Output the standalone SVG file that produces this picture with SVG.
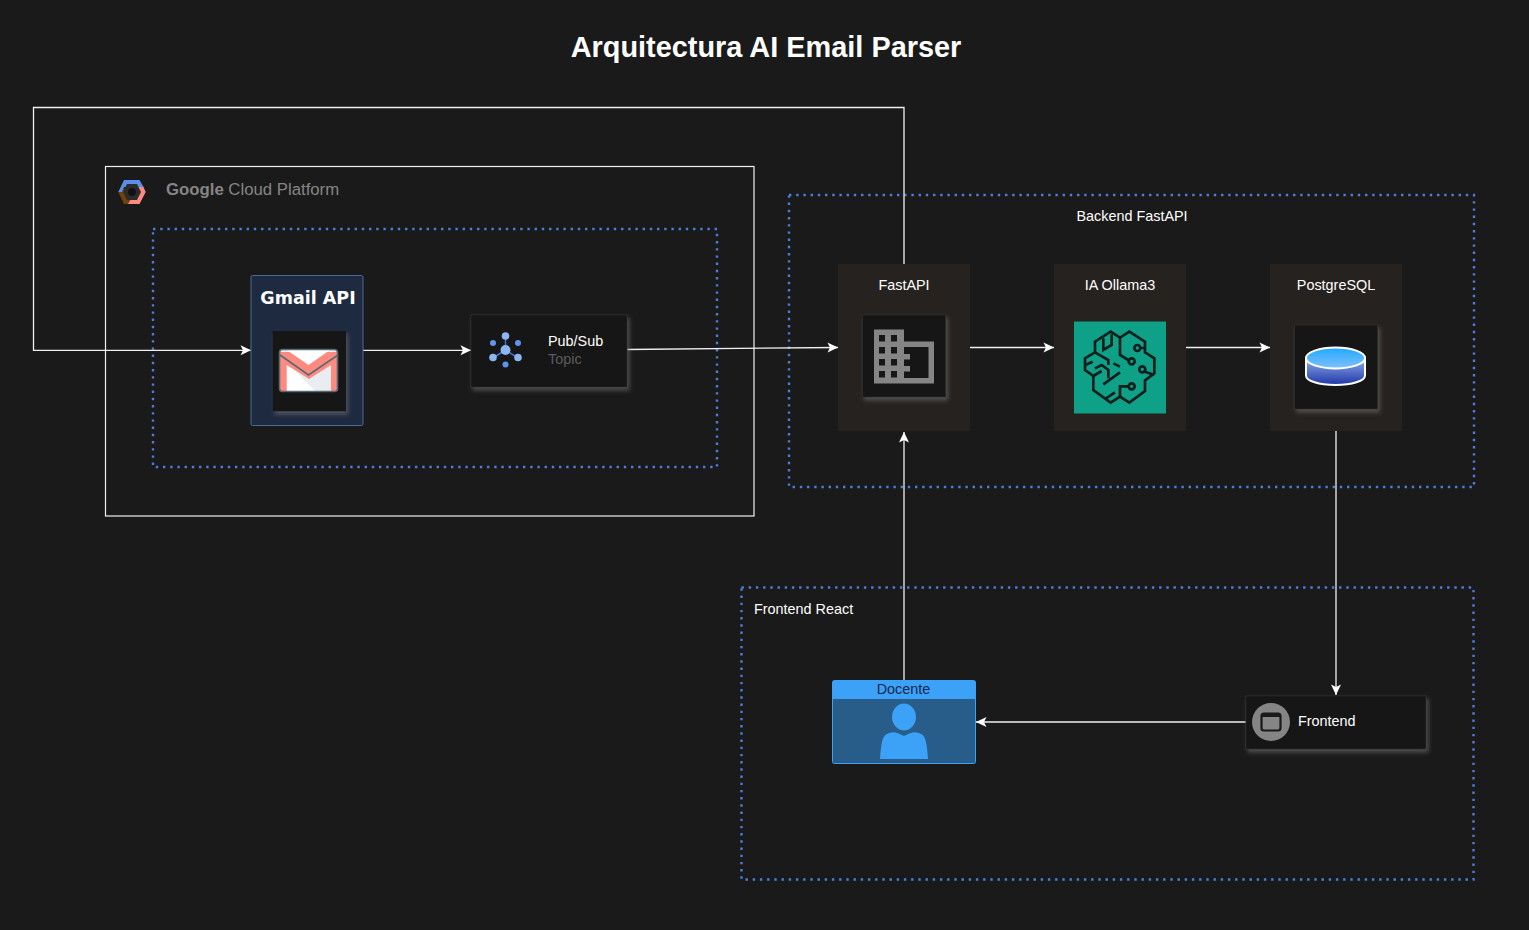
<svg xmlns="http://www.w3.org/2000/svg" width="1529" height="930" viewBox="0 0 1529 930">
<style>
text{font-family:"Liberation Sans",Arial,sans-serif;font-size:14.4px;fill:#fff}
.c{text-anchor:middle}
.zone{fill:none;stroke:#4a7ddc;stroke-width:2.400;stroke-dasharray:2.400 4.800}
.wire{fill:none;stroke:#f0f0f0;stroke-width:1.300;marker-end:url(#a)}
.card{fill:#121212;stroke:#2c2c2c;stroke-width:1;filter:url(#s)}
.col{fill:#26221f}
.br{fill:none;stroke:#0f1f1c;stroke-width:8;stroke-linejoin:miter}
</style>
<defs>
<marker id="a" markerUnits="userSpaceOnUse" markerWidth="12" markerHeight="12" refX="10.500" refY="5" orient="auto" overflow="visible"><path d="M0 0L10.500 5L0 10L2.500 5Z" fill="#fff"/></marker>
<filter id="s" x="-20%" y="-20%" width="145%" height="145%"><feDropShadow dx="2" dy="3" stdDeviation="2" flood-color="#777" flood-opacity=".55"/></filter>
<linearGradient id="d" x1="0" y1="0" x2="0" y2="1"><stop offset="0" stop-color="#8fb0e8"/><stop offset="1" stop-color="#1f35a8"/></linearGradient>
<linearGradient id="t" x1="0" y1="0" x2="0" y2="1"><stop offset="0" stop-color="#20a8ff"/><stop offset="1" stop-color="#80c0ff"/></linearGradient>
</defs>
<rect width="1529" height="930" fill="#1a1a1a"/>
<text x="766" y="57" class="c" style="font-size:28.900px;font-weight:bold">Arquitectura AI Email Parser</text>

<g id="gcp">
<rect x="105.500" y="166.500" width="648.500" height="349.500" fill="none" stroke="#f0f0f0" stroke-width="1.200"/>
<path d="M118.300 192L124 204H134V194L124 188Z" fill="#6e4208"/>
<path d="M139 184L143 186L145.700 192L139.500 204H128L134 194Z" fill="#ff8a80"/>
<path d="M118.300 192L124 180H139.500L143.500 187H124L122 192Z" fill="#5a8ee8"/>
<path d="M127 184H137L141 192L137 200H127L123 192Z" fill="#2b2b2b"/><circle cx="132" cy="192" r="4" fill="#111"/>
<text x="166" y="195" style="font-size:16.750px;fill:#858585"><tspan font-weight="bold">Google</tspan> Cloud Platform</text>
</g>
<rect id="gcp-zone" x="153" y="229" width="564" height="238" class="zone"/>
<g id="backend-zone"><rect x="789" y="195" width="685" height="292" class="zone"/><text x="1132" y="221" class="c">Backend FastAPI</text></g>
<g id="frontend-zone"><rect x="741.500" y="587.500" width="732" height="292" class="zone"/><text x="754" y="614">Frontend React</text></g>

<g id="connectors">
<path class="wire" d="M904 264V107.500H33.500V350.300H251"/>
<path class="wire" d="M363 350.300H471"/>
<path class="wire" d="M627 349.500L838 347.500"/>
<path class="wire" d="M970 347.500H1054"/>
<path class="wire" d="M1186 347.500H1270"/>
<path class="wire" d="M1336 431V695"/>
<path class="wire" d="M1246 722H976"/>
<path class="wire" d="M904 680V432"/>
</g>

<g id="gmail">
<rect x="251" y="275.500" width="112" height="150" rx="1.500" fill="#1e2a40" stroke="#4d6a96" stroke-width="1"/>
<text x="308" y="303.500" class="c" style="font-family:'DejaVu Sans',sans-serif;font-size:17.500px;font-weight:bold">Gmail API</text>
<rect x="272.500" y="331" width="73.500" height="80.500" fill="#121212" filter="url(#s)"/>
<rect x="279.500" y="349.500" width="58" height="42" rx="3" fill="#e9edf1"/>
<path d="M286.700 358V391H315L286.700 362Z" fill="#fff"/>
<path d="M280 352H338V391H331V365L309 379L286.700 365V391H280Z" fill="#ff8a80"/>
<path d="M286.700 350H330L308.500 365Z" fill="#fff"/>
<path d="M280 355L308.500 375L338 355" fill="none" stroke="#566a72" stroke-width="1.600"/>
<rect x="279.500" y="349.500" width="58" height="42" rx="3" fill="none" stroke="#566a72" stroke-width="1.600"/>
</g>

<g id="pubsub">
<rect x="471" y="315" width="156" height="72" class="card"/>
<g stroke="#3f72d8" stroke-width="1.500"><path d="M505.500 337V350M505.500 350L493 358M505.500 350L518 358"/></g>
<g fill="#8fb4f2"><circle cx="505.500" cy="336" r="3.800"/><circle cx="505.500" cy="350" r="5"/><circle cx="493" cy="357.500" r="3.800"/><circle cx="518" cy="357.500" r="3.800"/></g>
<g fill="#5f93ee"><circle cx="493" cy="343" r="3"/><circle cx="518" cy="343" r="3"/><circle cx="505.500" cy="364.500" r="3"/></g>
<text x="548" y="346">Pub/Sub</text>
<text x="548" y="364" style="fill:#5c5c5c">Topic</text>
</g>

<g id="fastapi">
<rect x="838" y="264" width="132" height="167" class="col"/>
<text x="904" y="290" class="c">FastAPI</text>
<rect x="862.500" y="315" width="83" height="82" class="card"/>
<path fill-rule="evenodd" fill="#858585" d="M874 329.500H904V341.500H934V383.500H874Z M879 335V341.500H885V335Z M891 335V341.500H897V335Z M879 347V353.500H885V347Z M891 347V353.500H897V347Z M879 359V365.500H885V359Z M891 359V365.500H897V359Z M879 371V377.500H885V371Z M891 371V377.500H897V371Z M904 347V354H910V359.500H904V366H910V371.500H904V378H928.500V347Z"/>
</g>

<g id="ollama">
<rect x="1054" y="264" width="132" height="167" class="col"/>
<text x="1120" y="290" class="c">IA Ollama3</text>
<rect x="1074" y="321.500" width="92" height="92" fill="#0fa088"/>
<g transform="translate(1070 315) scale(.3333)">
<path class="br" d="M150 68L122 50L75 80V112L45 130V165L70 183V225L122 263L150 245L178 263L225 228V196L253 175V130L225 112V80L178 50L150 68V120L175 135"/>
<path class="br" d="M150 245V214H176M100 70V105L125 90V58M75 112L115 135V150M46 150L68 140M75 160L95 150L115 165V190M70 183L95 168M130 145L150 155M150 172L100 208M135 232L108 250"/>
<path class="br" d="M211 99H225M225 170L253 180"/>
<circle class="br" cx="202" cy="99" r="9"/><circle class="br" cx="185" cy="139" r="9"/><circle class="br" cx="217" cy="163" r="9"/><circle class="br" cx="185" cy="214" r="9"/>
</g>
</g>

<g id="postgres">
<rect x="1270" y="264" width="132" height="167" class="col"/>
<text x="1336" y="290" class="c">PostgreSQL</text>
<rect x="1294.500" y="325" width="83" height="84" class="card"/>
<path d="M1306 358V375.500C1306 381 1319 385 1335.500 385S1365 381 1365 375.500V358Z" fill="url(#d)" stroke="#fff" stroke-width="2"/>
<ellipse cx="1335.500" cy="358" rx="29.500" ry="10.500" fill="url(#t)" stroke="#fff" stroke-width="2"/>
</g>

<g id="docente">
<rect x="832.500" y="680.500" width="143" height="83" rx="2" fill="#285d8a" stroke="#3ba2f8" stroke-width="1"/>
<path d="M832.500 699V682.500A2 2 0 0 1 834.500 680.500H973.500A2 2 0 0 1 975.500 682.500V699Z" fill="#3ba2f8"/>
<text x="903.500" y="694" class="c" style="fill:#16264f">Docente</text>
<ellipse cx="904" cy="717" rx="12" ry="13.500" fill="#3ba2f8"/>
<path d="M880 759C881 745 882 736 887 734C893 731 896 732 904 736C912 732 915 731 921 734C926 736 927 745 928 759Z" fill="#3ba2f8"/>
</g>

<g id="frontend">
<rect x="1246" y="696" width="180" height="53" class="card"/>
<circle cx="1271" cy="722" r="19" fill="#858585"/>
<rect x="1261.500" y="713.500" width="19" height="17" rx="2.500" fill="#858585" stroke="#1a1a1a" stroke-width="2.200"/>
<path d="M1261.500 716A2.500 2.500 0 0 1 1264 713.500H1278A2.500 2.500 0 0 1 1280.500 716V717H1261.500Z" fill="#1a1a1a"/>
<text x="1298" y="726">Frontend</text>
</g>
</svg>
